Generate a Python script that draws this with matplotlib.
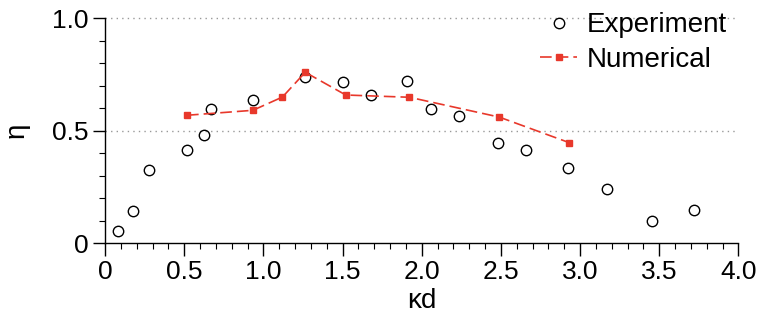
"""Efficiency eta vs kd: experiment points against the numerical curve."""

import matplotlib
matplotlib.use("Agg")
import matplotlib.pyplot as plt
from matplotlib.ticker import MultipleLocator

plt.rcParams["font.family"] = ["Liberation Sans", "DejaVu Sans"]

# experiment (open circles)
exp_kd = [0.078, 0.179, 0.278, 0.520, 0.622, 0.666, 0.931, 1.264, 1.504, 1.677,
          1.904, 2.056, 2.233, 2.483, 2.656, 2.922, 3.170, 3.454, 3.719]
exp_eta = [0.053, 0.144, 0.327, 0.412, 0.480, 0.594, 0.637, 0.738, 0.716, 0.657,
           0.719, 0.594, 0.566, 0.447, 0.413, 0.334, 0.242, 0.100, 0.146]

# numerical (red squares, dashed)
num_kd = [0.517, 0.933, 1.120, 1.264, 1.520, 1.922, 2.489, 2.929]
num_eta = [0.568, 0.590, 0.649, 0.759, 0.658, 0.648, 0.560, 0.447]

RED = "#e8382b"


def main():
    fig = plt.figure(figsize=(7.62, 3.22), dpi=100)
    ax = fig.add_axes([0.138, 0.245, 0.831, 0.699])

    ax.plot(exp_kd, exp_eta, "o", ls="none", mfc="none", mec="black", mew=1.0,
            ms=7.5, label="Experiment", zorder=3)
    ax.plot(num_kd, num_eta, color=RED, ls=(0, (7, 3)), lw=1.2, marker="s",
            ms=5, mfc=RED, mec=RED, label="Numerical", zorder=4)

    ax.set_xlim(0, 4.0)
    ax.set_ylim(0, 1.0)
    ax.xaxis.set_minor_locator(MultipleLocator(0.1))
    ax.yaxis.set_minor_locator(MultipleLocator(0.1))
    ax.set_xticks([0, 0.5, 1.0, 1.5, 2.0, 2.5, 3.0, 3.5, 4.0])
    ax.set_xticklabels(["0", "0.5", "1.0", "1.5", "2.0", "2.5", "3.0", "3.5", "4.0"])
    ax.set_yticks([0, 0.5, 1.0])
    ax.set_yticklabels(["0", "0.5", "1.0"])
    ax.tick_params(which="major", direction="out", length=9, width=1, labelsize=19, pad=3)
    ax.tick_params(which="minor", direction="out", length=4.5, width=0.8)

    for s in ("top", "right"):
        ax.spines[s].set_visible(False)
    for s in ("left", "bottom"):
        ax.spines[s].set_linewidth(1)

    for yv in (0.5, 1.0):
        ax.axhline(yv, color="#999999", lw=1, ls=(0, (1, 3)), zorder=1, clip_on=False)

    ax.set_xlabel("κd", fontsize=20, labelpad=3)
    ax.set_ylabel("η", fontsize=20, labelpad=16)

    ax.legend(loc="upper right", bbox_to_anchor=(1.0, 1.075), frameon=False,
              fontsize=20, handlelength=1.35, handletextpad=0.35, labelspacing=0.3,
              borderaxespad=0)

    fig.savefig("out.png", dpi=100)
    plt.close(fig)


if __name__ == "__main__":
    main()
